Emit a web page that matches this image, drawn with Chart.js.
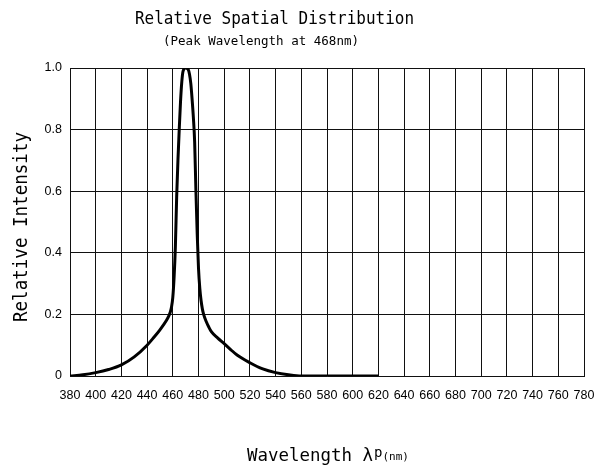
<!DOCTYPE html>
<html><head><meta charset="utf-8">
<script src="https://cdn.jsdelivr.net/npm/chart.js@4/dist/chart.umd.min.js"></script>
<style>html,body{margin:0;padding:0;background:#fff}#wrap{width:596px;height:468px}</style>
</head><body><div id="wrap"><canvas id="c" width="596" height="468"></canvas></div>
<script>
const wavelengths = [380, 390, 400, 410, 420, 430, 440, 445, 450, 455, 457, 458, 459, 460, 461, 462, 463, 464, 465, 466, 467, 468, 470, 472, 473, 474, 475, 476, 477, 478, 479, 480, 481, 482, 483, 484, 486, 488, 490, 495, 500, 505, 510, 520, 530, 540, 550, 560, 580, 600, 620];
const intensity   = [0, 0.004, 0.011, 0.021, 0.036, 0.062, 0.1, 0.124, 0.15, 0.18, 0.196, 0.207, 0.224, 0.255, 0.32, 0.42, 0.58, 0.7, 0.8, 0.89, 0.955, 0.99, 1.0, 0.995, 0.98, 0.95, 0.9, 0.84, 0.76, 0.6, 0.46, 0.35, 0.285, 0.245, 0.218, 0.2, 0.177, 0.159, 0.144, 0.123, 0.105, 0.086, 0.068, 0.043, 0.023, 0.011, 0.004, 0, 0, 0, 0];
const xTickValues = [380, 400, 420, 440, 460, 480, 500, 520, 540, 560, 580, 600, 620, 640, 660, 680, 700, 720, 740, 760, 780];
const yTickValues = [0, 0.2, 0.4, 0.6, 0.8, 1.0];
const titleText = "Relative Spatial Distribution";
const subtitleText = "(Peak Wavelength at 468nm)";
const yTitleText = "Relative Intensity";
const xTitleMain = "Wavelength \u03bb";
const xTitleP = "p";
const xTitleUnit = "(nm)";

const MONO = '"DejaVu Sans Mono", "Liberation Mono", monospace';
const TICKFONT = '"Liberation Sans Narrow", "Liberation Sans", Arial, sans-serif';

function drawFitted(ctx, text, x, y, size, width, rotate) {
  ctx.save();
  ctx.font = size + 'px ' + MONO;
  const w = ctx.measureText(text).width;
  const sx = width ? width / w : 1;
  ctx.translate(x, y);
  if (rotate) ctx.rotate(rotate);
  ctx.scale(sx, 1);
  ctx.textAlign = 'left';
  ctx.textBaseline = 'alphabetic';
  ctx.fillStyle = '#000';
  ctx.fillText(text, 0, 0);
  ctx.restore();
  return w * sx;
}

const textPlugin = {
  id: 'texts',
  afterDraw(chart) {
    const ctx = chart.ctx;
    drawFitted(ctx, titleText, 135, 24, 18, 279);
    drawFitted(ctx, subtitleText, 163, 45, 13, 196);
    drawFitted(ctx, yTitleText, 27, 322, 19, 190, -Math.PI / 2);
    let x = 247;
    x += drawFitted(ctx, xTitleMain, x, 461, 17, 126);
    x += 1;
    x += drawFitted(ctx, xTitleP, x, 457, 14, 0);
    drawFitted(ctx, xTitleUnit, x, 460, 11, 0);
  }
};

new Chart(document.getElementById('c'), {
  type: 'line',
  data: {
    datasets: [{
      data: wavelengths.map((w, i) => ({ x: w, y: intensity[i] })),
      borderColor: '#000',
      borderWidth: 3,
      pointRadius: 0,
      fill: false,
      cubicInterpolationMode: 'monotone'
    }]
  },
  options: {
    responsive: false,
    animation: false,
    devicePixelRatio: 1,
    layout: { padding: { left: 0, top: 68, right: 12, bottom: 0 } },
    plugins: { legend: { display: false }, tooltip: { enabled: false }, title: { display: false } },
    scales: {
      x: {
        type: 'linear', min: 380, max: 780,
        afterBuildTicks: (axis) => { axis.ticks = xTickValues.map(v => ({ value: v })); },
        afterFit: (axis) => { axis.height = 92; axis.paddingLeft = 0; axis.paddingRight = 0; },
        grid: { color: '#111', lineWidth: 1, drawTicks: false },
        border: { display: true, color: '#111', width: 1 },
        ticks: { padding: 12, color: '#000', maxRotation: 0, autoSkip: false, font: { family: TICKFONT, size: 12.5 } }
      },
      y: {
        type: 'linear', min: 0, max: 1,
        afterBuildTicks: (axis) => { axis.ticks = yTickValues.map(v => ({ value: v })); },
        afterFit: (axis) => { axis.width = 70; axis.paddingTop = 0; axis.paddingBottom = 0; },
        grid: { color: '#111', lineWidth: 1, drawTicks: false },
        border: { display: true, color: '#111', width: 1 },
        ticks: { padding: 8, color: '#000', autoSkip: false, font: { family: TICKFONT, size: 12.5 },
          callback: (v) => v === 0 ? '0' : Number(v).toFixed(1) }
      }
    }
  },
  plugins: [textPlugin]
});
</script>
</body></html>
